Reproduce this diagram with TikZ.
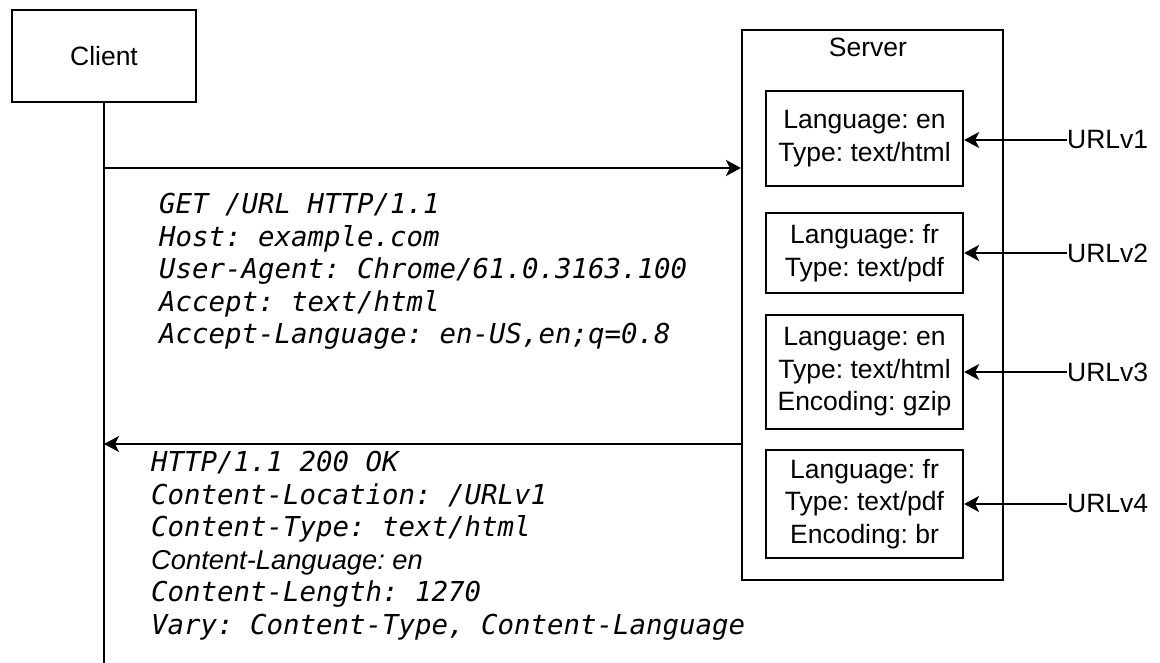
\documentclass[tikz,border=0pt]{standalone}
\usepackage{fontspec}
\setmainfont{Liberation Sans}
\newfontfamily\monofont{DejaVu Sans Mono}
\usetikzlibrary{arrows.meta}
\frenchspacing
\tikzset{
  lw/.style={line width=2.2pt},
  box/.style={draw, lw, inner sep=0pt, align=center, font=\fontsize{26.5}{32.5}\selectfont},
  lbl/.style={inner sep=0pt, font=\fontsize{26.5}{32.5}\selectfont},
  msg/.style={inner sep=0pt, align=left, anchor=north west, font=\frenchspacing\monofont\itshape\fontsize{27.4}{32.5}\selectfont},
  arr/.style={lw, -{Stealth[length=15pt,width=16pt,inset=4pt]}},
  ln/.style={lw}
}
\begin{document}
\begin{tikzpicture}[x=1pt,y=-1pt]
\useasboundingbox (0,0) rectangle (1160,663);
% client
\node[box, minimum width=184pt, minimum height=92pt] (client) at (104,56) {Client};
\coordinate (lifeend) at (104,663);
\draw[ln] (client.south) -- (lifeend);
% server
\node[box, minimum width=261pt, minimum height=550pt] (server) at (872.5,305) {};
\node[lbl, anchor=center] (slabel) at (868,47) {Server};
\node[box, minimum width=197pt, minimum height=95pt] (b1) at (864.5,138.5) {Language: en\\Type: text/html};
\node[box, minimum width=197pt, minimum height=80pt] (b2) at (864.5,253) {Language: fr\\Type: text/pdf};
\node[box, minimum width=197pt, minimum height=114pt] (b3) at (864.5,372) {Language: en\\Type: text/html\\Encoding: gzip};
\node[box, minimum width=197pt, minimum height=108pt] (b4) at (864.5,504) {Language: fr\\Type: text/pdf\\Encoding: br};
% url labels
\node[lbl, anchor=west] (u1) at (1067,140) {URLv1};
\node[lbl, anchor=west] (u2) at (1067,253) {URLv2};
\node[lbl, anchor=west] (u3) at (1067,372) {URLv3};
\node[lbl, anchor=west] (u4) at (1067,504) {URLv4};
\draw[arr] (u1.west) -- (b1.east |- u1.west);
\draw[arr] (u2.west) -- (b2.east |- u2.west);
\draw[arr] (u3.west) -- (b3.east |- u3.west);
\draw[arr] (u4.west) -- (b4.east |- u4.west);
% request
\coordinate (reqstart) at (104,168);
\draw[arr] (reqstart) -- (server.west |- reqstart);
\node[msg] (req) at (159,193) {GET /URL HTTP/1.1\\Host: example.com\\User-Agent: Chrome/61.0.3163.100\\Accept: text/html\\Accept-Language: en-US,en;q=0.8};
% response
\coordinate (respstart) at (742,444);
\draw[arr] (respstart) -- (client.south |- respstart);
\node[msg] (resp) at (151,451) {HTTP/1.1 200 OK\\Content-Location: /URLv1\\Content-Type: text/html\\{\rmfamily\itshape\fontsize{27.3}{32.5}\selectfont Content-Language: en}\\Content-Length: 1270\\Vary: Content-Type, Content-Language};
\end{tikzpicture}
\end{document}
